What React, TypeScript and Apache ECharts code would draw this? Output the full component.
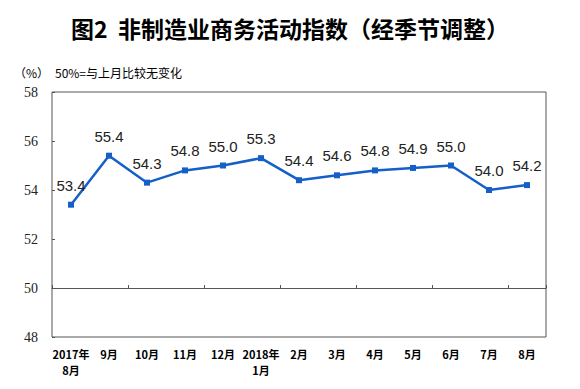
import React, { useEffect, useRef } from "react";
import * as echarts from "echarts";

const categories = ["2017年\n8月", "9月", "10月", "11月", "12月", "2018年\n1月", "2月", "3月", "4月", "5月", "6月", "7月", "8月"];
const values = [53.4, 55.4, 54.3, 54.8, 55.0, 55.3, 54.4, 54.6, 54.8, 54.9, 55.0, 54.0, 54.2];
const yMin = 48;
const yMax = 58;
const yInterval = 2;
const baseline = 50;
const titleText = "图2  非制造业商务活动指数（经季节调整）";
const unitText = "（%）";
const noteText = "50%=与上月比较无变化";

export default function App() {
  const ref = useRef<HTMLDivElement>(null);
  useEffect(() => {
    if (!ref.current) return;
    const chart = echarts.init(ref.current, null, { renderer: "svg" });
    const gridTop = 92;
    const gridBottom = 52;
    const gridH = 389 - gridTop - gridBottom;
    const offset50 = -((baseline - yMin) / (yMax - yMin)) * gridH;
    chart.setOption({
      animation: false,
      backgroundColor: "#fff",
      title: {
        text: titleText,
        left: "center",
        top: 11,
        textStyle: { fontSize: 23, fontWeight: "bold", color: "#000", fontFamily: "Noto Sans CJK SC" },
      },
      graphic: [
        { type: "text", left: 14, top: 66, style: { text: unitText, fontSize: 12, fill: "#000", fontFamily: "Noto Sans CJK SC" } },
        { type: "text", left: 55, top: 66, style: { text: noteText, fontSize: 12, fill: "#000", fontFamily: "Noto Sans CJK SC" } },
      ],
      grid: {
        left: 52,
        right: 34,
        top: gridTop,
        bottom: gridBottom,
        show: true,
        borderColor: "#555",
        borderWidth: 1,
        containLabel: false,
      },
      xAxis: [
        {
          type: "category",
          data: categories,
          boundaryGap: true,
          axisLine: { show: false },
          axisTick: { show: false },
          axisLabel: {
            margin: 9,
            fontSize: 11,
            fontWeight: "bold",
            color: "#000",
            lineHeight: 16,
            interval: 0,
            fontFamily: "Noto Sans CJK SC",
          },
          splitLine: { show: false },
        },
        {
          type: "category",
          data: categories,
          position: "bottom",
          offset: offset50,
          boundaryGap: true,
          axisLine: { show: true, lineStyle: { color: "#555", width: 1 } },
          axisTick: { show: true, inside: true, length: 3, lineStyle: { color: "#555" } },
          axisLabel: { show: false },
          splitLine: { show: false },
        },
      ],
      yAxis: {
        type: "value",
        min: yMin,
        max: yMax,
        interval: yInterval,
        axisLine: { show: false },
        axisTick: { show: true, inside: true, length: 3, lineStyle: { color: "#555" } },
        axisLabel: { margin: 14, fontSize: 14, color: "#222", fontFamily: "Liberation Serif" },
        splitLine: { show: false },
      },
      series: [
        {
          type: "line",
          data: values,
          xAxisIndex: 0,
          symbol: "rect",
          symbolSize: 6,
          lineStyle: { color: "#1560c8", width: 2.5 },
          itemStyle: { color: "#1560c8" },
          label: {
            show: true,
            position: "top",
            distance: 9,
            fontSize: 15,
            color: "#222",
            fontFamily: "Liberation Sans",
            formatter: (p: any) => Number(p.value).toFixed(1),
          },
        },
      ],
    });
    return () => chart.dispose();
  }, []);
  return <div ref={ref} style={{ width: 580, height: 389, position: "absolute", left: 0, top: 0 }} />;
}
